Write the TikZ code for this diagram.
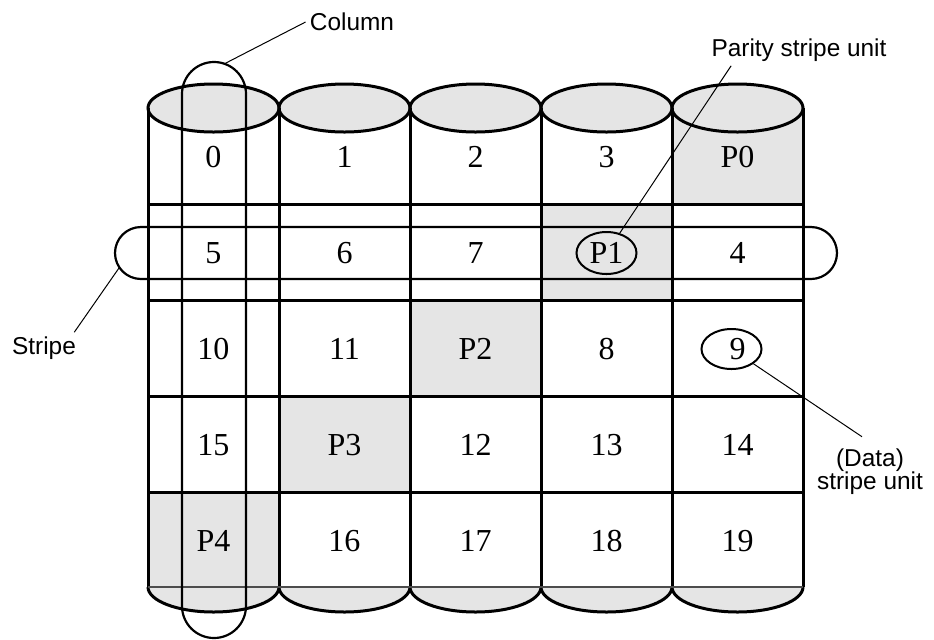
\documentclass[tikz,border=0pt]{standalone}
\usepackage{fontspec}
\setmainfont{Liberation Serif}
\newfontfamily\labfont{Liberation Sans}
\usetikzlibrary{shapes.geometric}

\begin{document}
\begin{tikzpicture}[x=0.5pt,y=-0.5pt,
  disk/.style={line width=1.5pt},
  shade/.style={black!10},
  unit/.style={inner sep=0pt,font=\fontsize{16}{18}\selectfont},
  ring/.style={draw,ellipse,line width=1pt,minimum width=30pt,minimum height=21pt,inner sep=0pt},
  band/.style={line width=1.1pt},
  lead/.style={line width=0.5pt},
  tag/.style={inner sep=2pt,font=\labfont\fontsize{12.2}{11.5}\selectfont}]
\useasboundingbox (0,0) rectangle (934,639);
% grey tops, bottoms and parity units
\foreach \c in {0,...,4}{
  \fill[shade] (213.5+131*\c,108) ellipse [x radius=65.5,y radius=24];
  \fill[shade] (148+131*\c,587) arc [start angle=180,end angle=0,x radius=65.5,y radius=25];
  \fill[shade] (672-131*\c,108+96*\c) rectangle ++(131,96);
}
% the five disks
\foreach \c in {0,...,4}{
  \draw[disk] (213.5+131*\c,108) ellipse [x radius=65.5,y radius=24];
  \draw[disk] (148+131*\c,587) arc [start angle=180,end angle=0,x radius=65.5,y radius=25];
}
\foreach \x in {148,279,...,803} \draw[disk] (\x,108) -- (\x,587);
\foreach \y in {204,300,396,492} \draw[disk] (148,\y) -- (803,\y);
\draw[gray!60!black,line width=0.6pt] (148,587) -- (803,587);
% stripe units
\foreach \t [count=\i from 0] in {0,1,2,3,P0,5,6,7,P1,4,10,11,P2,8,9,15,P3,12,13,14,P4,16,17,18,19}
  \node[unit] (u\i) at ({213.5+131*mod(\i,5)},{157+96*int(\i/5)}) {\t};
\node[ring] (r1) at (u8) {};
\node[ring,minimum height=20pt] (r9) at ([xshift=-3pt]u14) {};
% column and stripe
\draw[band,rounded corners=16pt] (182,62) rectangle (246,638);
\draw[band,rounded corners=13pt] (115,227) rectangle (837,279);
\coordinate (ctop) at (224,64);
\coordinate (sleft) at (119,268);
% labels
\node[tag] (colab) at (352,22) {Column};
\node[tag] (plab) at (799,50) {Parity stripe unit};
\node[tag] (stlab) at (44,348) {Stripe};
\node[tag,align=center] (dlab) at (870,472) {(Data)\\stripe unit};
\draw[lead] (ctop) -- (colab.west);
\draw[lead] (r1) -- ([xshift=12pt]plab.south west);
\draw[lead] (sleft) -- ([xshift=-3pt]stlab.north east);
\draw[lead] (r9) -- ([shift={(-8,-8)}]dlab.north);
\end{tikzpicture}
\end{document}
